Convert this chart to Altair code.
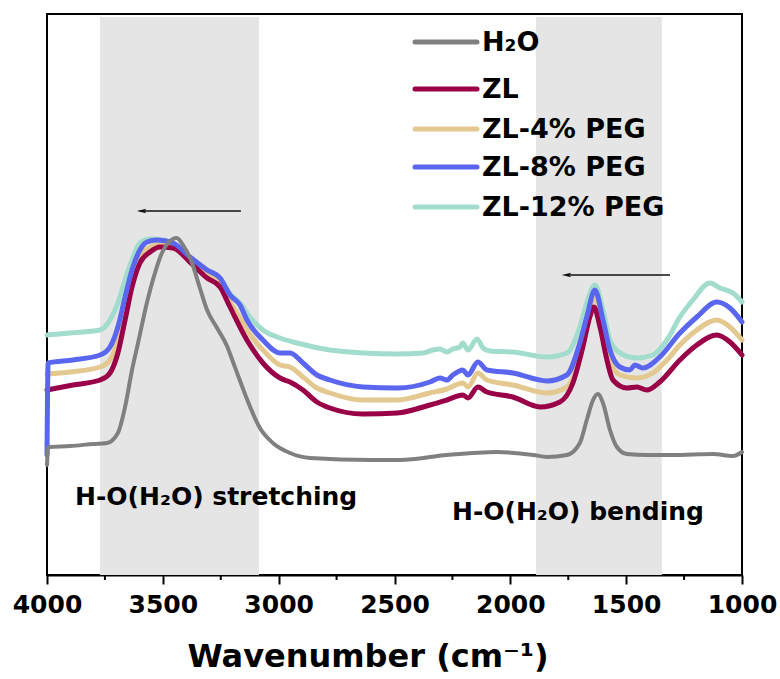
import altair as alt
import pandas as pd

# ---- FTIR spectra (wavenumber in cm^-1, absorbance in a.u.) ----
series_names = ["H₂O", "ZL", "ZL-4% PEG", "ZL-8% PEG", "ZL-12% PEG"]
series_colors = ["#808080", "#990047", "#e3c88f", "#5b66ef", "#a2dccd"]

wn_h2o = [4000, 3995, 3900, 3800, 3741, 3694, 3663, 3633, 3607, 3569, 3534, 3504, 3478, 3440,
          3413, 3374, 3340, 3309, 3266, 3223, 3197, 3160, 3137, 3081, 3025, 2951, 2865, 2600,
          2476, 2274, 2058, 1900, 1842, 1756, 1700, 1670, 1643, 1622, 1600, 1570, 1540, 1497,
          1410, 1300, 1126, 1039, 1000]
ab_h2o = [0.220, 0.256, 0.258, 0.262, 0.264, 0.284, 0.336, 0.410, 0.464, 0.544, 0.604, 0.644,
          0.664, 0.674, 0.660, 0.624, 0.574, 0.530, 0.494, 0.458, 0.426, 0.380, 0.352, 0.294,
          0.264, 0.244, 0.234, 0.230, 0.230, 0.240, 0.246, 0.240, 0.236, 0.240, 0.264, 0.310,
          0.350, 0.362, 0.344, 0.290, 0.256, 0.242, 0.240, 0.240, 0.242, 0.238, 0.246]

wn_zl = [4000, 3888, 3771, 3728, 3694, 3663, 3633, 3599, 3555, 3512, 3456, 3383, 3309, 3253,
         3210, 3137, 3068, 2994, 2951, 2895, 2835, 2779, 2636, 2489, 2347, 2274, 2205, 2183,
         2140, 2101, 1989, 1872, 1786, 1730, 1687, 1657, 1639, 1613, 1583, 1557, 1497, 1454,
         1411, 1355, 1268, 1195, 1109, 1052, 1000]
ab_zl = [0.370, 0.380, 0.390, 0.404, 0.444, 0.510, 0.576, 0.624, 0.646, 0.656, 0.654, 0.626,
         0.594, 0.576, 0.536, 0.470, 0.424, 0.394, 0.386, 0.370, 0.346, 0.334, 0.322, 0.324,
         0.340, 0.350, 0.360, 0.354, 0.376, 0.366, 0.356, 0.336, 0.346, 0.384, 0.456, 0.516,
         0.536, 0.496, 0.430, 0.390, 0.374, 0.376, 0.370, 0.386, 0.430, 0.460, 0.480, 0.466,
         0.440]

wn_peg4 = [4000, 3900, 3771, 3728, 3694, 3663, 3633, 3599, 3555, 3500, 3456, 3383, 3309, 3253,
           3210, 3167, 3137, 3068, 2994, 2951, 2895, 2835, 2779, 2636, 2489, 2347, 2274, 2205,
           2183, 2140, 2101, 1989, 1842, 1756, 1700, 1670, 1635, 1600, 1570, 1527, 1454, 1385,
           1324, 1268, 1195, 1109, 1052, 1000]
ab_peg4 = [0.402, 0.406, 0.416, 0.430, 0.470, 0.536, 0.596, 0.636, 0.656, 0.662, 0.660, 0.634,
           0.604, 0.584, 0.546, 0.514, 0.490, 0.450, 0.420, 0.416, 0.396, 0.374, 0.364, 0.350,
           0.350, 0.364, 0.372, 0.384, 0.376, 0.404, 0.390, 0.380, 0.364, 0.376, 0.436, 0.496,
           0.556, 0.496, 0.430, 0.400, 0.394, 0.404, 0.430, 0.460, 0.490, 0.510, 0.496, 0.470]

wn_peg8 = [4000, 3995, 3888, 3771, 3728, 3694, 3663, 3633, 3599, 3569, 3525, 3456, 3383, 3309,
           3253, 3210, 3167, 3137, 3068, 2994, 2951, 2895, 2835, 2779, 2636, 2489, 2347, 2304,
           2274, 2248, 2205, 2183, 2140, 2101, 1989, 1842, 1756, 1700, 1670, 1635, 1600, 1570,
           1527, 1484, 1463, 1428, 1355, 1268, 1195, 1109, 1052, 1000]
ab_peg8 = [0.240, 0.424, 0.430, 0.440, 0.456, 0.496, 0.556, 0.610, 0.650, 0.666, 0.670, 0.664,
           0.636, 0.610, 0.594, 0.560, 0.540, 0.510, 0.470, 0.444, 0.444, 0.424, 0.400, 0.390,
           0.376, 0.374, 0.386, 0.394, 0.390, 0.400, 0.410, 0.400, 0.426, 0.410, 0.404, 0.388,
           0.400, 0.464, 0.516, 0.570, 0.510, 0.450, 0.416, 0.410, 0.420, 0.414, 0.436, 0.484,
           0.516, 0.546, 0.534, 0.506]

wn_peg12 = [4000, 3900, 3771, 3728, 3694, 3663, 3633, 3599, 3555, 3499, 3456, 3396, 3309, 3253,
            3210, 3167, 3124, 3068, 2994, 2921, 2779, 2636, 2489, 2377, 2334, 2304, 2274, 2248,
            2218, 2205, 2183, 2144, 2118, 2088, 1989, 1842, 1756, 1700, 1670, 1635, 1600, 1570,
            1527, 1454, 1385, 1324, 1268, 1212, 1139, 1095, 1039, 1000]
ab_peg12 = [0.480, 0.484, 0.490, 0.510, 0.544, 0.590, 0.630, 0.664, 0.672, 0.670, 0.664, 0.636,
            0.610, 0.594, 0.562, 0.544, 0.516, 0.490, 0.474, 0.464, 0.450, 0.444, 0.442, 0.444,
            0.450, 0.452, 0.446, 0.452, 0.456, 0.464, 0.450, 0.472, 0.454, 0.448, 0.446, 0.436,
            0.444, 0.496, 0.544, 0.580, 0.530, 0.470, 0.444, 0.434, 0.440, 0.470, 0.516, 0.550,
            0.584, 0.574, 0.564, 0.546]

# vibrational regions (cm^-1)
band_names = ["stretching", "bending"]
band_start = [3771, 1889]
band_end = [3085, 1346]

major_ticks = [4000, 3500, 3000, 2500, 2000, 1500, 1000]
minor_ticks = [3750, 3250, 2750, 2250, 1750, 1250]

Y_MAX = 1.122
FONT = "DejaVu Sans"

spectra = {
    "H₂O": (wn_h2o, ab_h2o),
    "ZL": (wn_zl, ab_zl),
    "ZL-4% PEG": (wn_peg4, ab_peg4),
    "ZL-8% PEG": (wn_peg8, ab_peg8),
    "ZL-12% PEG": (wn_peg12, ab_peg12),
}

x_scale = alt.Scale(domain=[1000, 4000], reverse=True, nice=False, zero=False)
y_scale = alt.Scale(domain=[0, Y_MAX], nice=False, zero=False)
color_scale = alt.Scale(domain=series_names, range=series_colors)

x_axis = alt.Axis(values=major_ticks, format="d", labelFont=FONT, labelFontWeight="bold",
                  labelFontSize=25, labelColor="black", labelPadding=8, tickSize=9,
                  tickWidth=2, tickColor="black", domainColor="black", domainWidth=2,
                  grid=False, title=None, labelFlush=False)

# shaded regions
bands = pd.DataFrame({"band": band_names, "start": band_start, "end": band_end})
shade = alt.Chart(bands).mark_rect(color="#e5e5e5").encode(
    x=alt.X("start:Q", scale=x_scale, axis=x_axis),
    x2="end:Q",
    y=alt.value(3),
    y2=alt.value(561),
)

# minor ticks below the x axis
minor = alt.Chart(pd.DataFrame({"wn": minor_ticks})).mark_rule(
    color="black", strokeWidth=2
).encode(x=alt.X("wn:Q", scale=x_scale), y=alt.value(561), y2=alt.value(566))

# spectra, drawn back to front
draw_order = ["ZL-12% PEG", "ZL-4% PEG", "ZL", "ZL-8% PEG", "H₂O"]
line_layers = []
for name in draw_order:
    wn, ab = spectra[name]
    df = pd.DataFrame({"wavenumber": wn, "absorbance": ab, "sample": name})
    width = 4 if name == "H₂O" else 5
    line_layers.append(
        alt.Chart(df).mark_line(strokeWidth=width, interpolate="monotone",
                                strokeJoin="round", strokeCap="round").encode(
            x=alt.X("wavenumber:Q", scale=x_scale),
            y=alt.Y("absorbance:Q", scale=y_scale, axis=None),
            color=alt.Color("sample:N", scale=color_scale, legend=None),
        )
    )

# shift arrows
arrows = pd.DataFrame({
    "tail": [3163, 1311],
    "head": [3600, 1760],
    "tip": [3592, 1758],
    "level": [0.728, 0.600],
})
arrow_shaft = alt.Chart(arrows).mark_rule(color="#111111", strokeWidth=1.5).encode(
    x=alt.X("tail:Q", scale=x_scale), x2="head:Q",
    y=alt.Y("level:Q", scale=y_scale),
)
arrow_head = alt.Chart(arrows).mark_point(
    shape="M-1,0L1,-0.45L0.6,0L1,0.45Z", filled=True, color="#111111", size=90, opacity=1
).encode(x=alt.X("tip:Q", scale=x_scale), y=alt.Y("level:Q", scale=y_scale))

# region labels
labels = pd.DataFrame({
    "text": ["H-O(H₂O) stretching", "H-O(H₂O) bending"],
    "wn": [3879, 2252],
    "level": [0.140, 0.110],
})
region_text = alt.Chart(labels).mark_text(
    align="left", baseline="alphabetic", font=FONT, fontWeight="bold", fontSize=25,
    color="black"
).encode(x=alt.X("wn:Q", scale=x_scale), y=alt.Y("level:Q", scale=y_scale), text="text:N")

# legend
legend_rows = [28, 75, 115, 153, 193]
legend_layers = []
for name, row in zip(series_names, legend_rows):
    one = pd.DataFrame({"sample": [name]})
    legend_layers.append(
        alt.Chart(one).mark_rule(strokeWidth=5, strokeCap="round").encode(
            x=alt.value(368), x2=alt.value(430), y=alt.value(row),
            color=alt.Color("sample:N", scale=color_scale, legend=None),
        )
    )
    legend_layers.append(
        alt.Chart(one).mark_text(
            align="left", baseline="middle", font=FONT, fontWeight="bold", fontSize=27,
            color="black", dy=1
        ).encode(x=alt.value(435), y=alt.value(row), text="sample:N")
    )

# axis title
axis_title = alt.Chart(pd.DataFrame({"t": ["Wavenumber (cm⁻¹)"]})).mark_text(
    align="center", baseline="alphabetic", font=FONT, fontWeight="bold", fontSize=32,
    color="black"
).encode(x=alt.value(321), y=alt.value(653), text="t:N")

chart = alt.layer(
    shade, minor, *line_layers, arrow_shaft, arrow_head, region_text, *legend_layers,
    axis_title
).properties(
    width=695, height=561,
    autosize=alt.AutoSizeParams(type="none"),
    padding={"left": 47, "top": 14, "right": 38, "bottom": 104},
).configure_view(stroke="black", strokeWidth=2)

chart.save("out.html", embed_options={"renderer": "svg", "actions": False})
